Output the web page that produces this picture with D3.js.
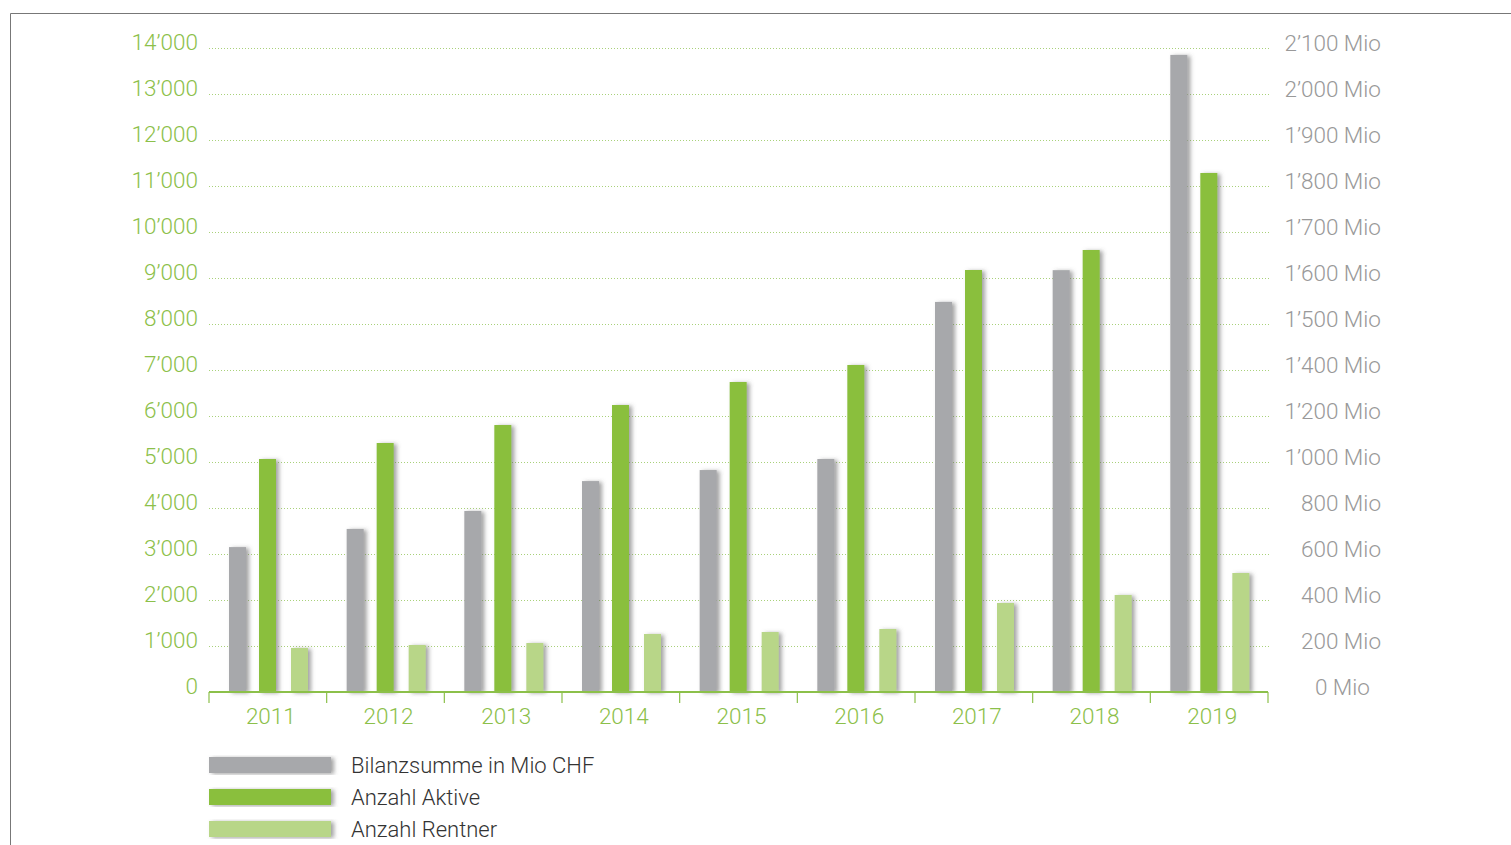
<!DOCTYPE html>
<html>
<head>
<meta charset="utf-8">
<script src="https://cdn.jsdelivr.net/npm/d3@7"></script>
<style>
  body { margin: 0; background: #fff; }
  svg text { font-family: Roboto, "Liberation Sans", sans-serif; font-weight: 300; }
</style>
</head>
<body>
<div id="chart"></div>
<script>
var width = 1511;
var height = 845;

// data
var years = ["2011", "2012", "2013", "2014", "2015", "2016", "2017", "2018", "2019"];
var bilanzsumme = [630, 709, 787, 917, 965, 1013, 1548, 1617, 2085]; // Mio CHF (right axis)
var aktive = [5065, 5413, 5804, 6239, 6739, 7109, 9174, 9609, 11283];
var rentner = [957, 1022, 1065, 1261, 1304, 1370, 1935, 2109, 2587];
var leftTicks = [0, 1000, 2000, 3000, 4000, 5000, 6000, 7000, 8000, 9000, 10000, 11000, 12000, 13000, 14000];
var rightTicks = [0, 200, 400, 600, 800, 1000, 1200, 1400, 1500, 1600, 1700, 1800, 1900, 2000, 2100];
var seriesNames = ["Bilanzsumme in Mio CHF", "Anzahl Aktive", "Anzahl Rentner"];
var colors = ["#a7a8ab", "#8abf3e", "#b8d688"];

var green = "#8cc04a";
var plotLeft = 209, plotRight = 1268, plotTop = 48, plotBottom = 692;

var svg = d3.select("#chart").append("svg")
    .attr("width", width)
    .attr("height", height);

var defs = svg.append("defs");
var f = defs.append("filter").attr("id", "shadow")
    .attr("x", "-50%").attr("y", "-10%").attr("width", "250%").attr("height", "120%");
f.append("feDropShadow")
    .attr("dx", 3).attr("dy", 1).attr("stdDeviation", 2)
    .attr("flood-color", "#555").attr("flood-opacity", 0.55);

// frame
svg.append("path")
    .attr("d", "M10.5," + height + "V13.5H" + width)
    .attr("fill", "none").attr("stroke", "#777").attr("stroke-width", 1);

var x = d3.scaleBand().domain(years).range([plotLeft, plotRight]);
var y = d3.scaleLinear().domain([0, 14000]).range([plotBottom, plotTop]);
// right axis is piecewise: 200 steps up to 1400, then 100 steps
var yR = d3.scaleLinear().domain([0, 1400, 2100]).range([plotBottom, y(7000), plotTop]);

// grid
svg.append("g").selectAll("line")
    .data(leftTicks.slice(1))
    .enter().append("line")
    .attr("x1", plotLeft).attr("x2", plotRight + 2)
    .attr("y1", function (d) { return y(d) + 0.5; })
    .attr("y2", function (d) { return y(d) + 0.5; })
    .attr("stroke", "#a9d17a")
    .attr("stroke-width", 1)
    .attr("stroke-dasharray", "1,2");

// left axis labels (sit a bit above their grid line)
var yAxisL = d3.axisLeft(y).tickValues(leftTicks).tickSize(0).tickPadding(11)
    .tickFormat(function (d) { return d3.format(",")(d).replace(/,/g, "\u2019"); });
var gL = svg.append("g").attr("transform", "translate(" + plotLeft + ",-6)").call(yAxisL);
gL.select(".domain").remove();
gL.selectAll("text").attr("fill", green).attr("font-size", 22.5).attr("font-family", null);

// right axis labels
var yAxisR = d3.axisRight(yR).tickValues(rightTicks).tickSize(0).tickPadding(0)
    .tickFormat(function (d) { return d3.format(",")(d).replace(/,/g, "\u2019") + " Mio"; });
var gR = svg.append("g").attr("transform", "translate(1381,-5)").call(yAxisR);
gR.select(".domain").remove();
gR.selectAll("text").attr("fill", "#999").attr("font-size", 22.5).attr("font-family", null)
    .attr("text-anchor", "end")
    .attr("x", function (d) { return d === 0 ? -11 : 0; });

// bars
var bw = 17;
var offsets = [20, 50, 82];
var series = [
    { vals: bilanzsumme, scale: yR },
    { vals: aktive, scale: y },
    { vals: rentner, scale: y }
];
series.forEach(function (s, k) {
    svg.append("g").selectAll("rect")
        .data(s.vals)
        .enter().append("rect")
        .attr("x", function (d, i) { return x(years[i]) + offsets[k]; })
        .attr("y", function (d) { return s.scale(d); })
        .attr("width", bw)
        .attr("height", function (d) { return plotBottom - s.scale(d); })
        .attr("fill", colors[k])
        .attr("filter", "url(#shadow)");
});

// x axis
var xAxis = d3.axisBottom(x).tickSize(0).tickPadding(16);
var gX = svg.append("g").attr("transform", "translate(0," + plotBottom + ")").call(xAxis);
gX.select(".domain").attr("stroke", green).attr("stroke-width", 2).attr("d", "M" + plotLeft + ",0H" + plotRight);
gX.selectAll(".tick text").attr("fill", green).attr("font-size", 22.5).attr("font-family", null)
    .attr("x", 3);
gX.append("g").selectAll("line")
    .data(d3.range(years.length + 1))
    .enter().append("line")
    .attr("x1", function (i) { return plotLeft + i * x.step(); })
    .attr("x2", function (i) { return plotLeft + i * x.step(); })
    .attr("y1", 0).attr("y2", 11)
    .attr("stroke", green).attr("stroke-width", 1.2);

// legend
var lg = svg.append("g").selectAll("g")
    .data(seriesNames)
    .enter().append("g")
    .attr("transform", function (d, i) { return "translate(209," + (757 + i * 32) + ")"; });
lg.append("rect")
    .attr("width", 122).attr("height", 16)
    .attr("fill", function (d, i) { return colors[i]; })
    .attr("filter", "url(#shadow)");
lg.append("text")
    .attr("x", 142).attr("y", 8).attr("dy", "0.36em")
    .attr("font-size", 22).attr("fill", "#333")
    .text(function (d) { return d; });
</script>
</body>
</html>
